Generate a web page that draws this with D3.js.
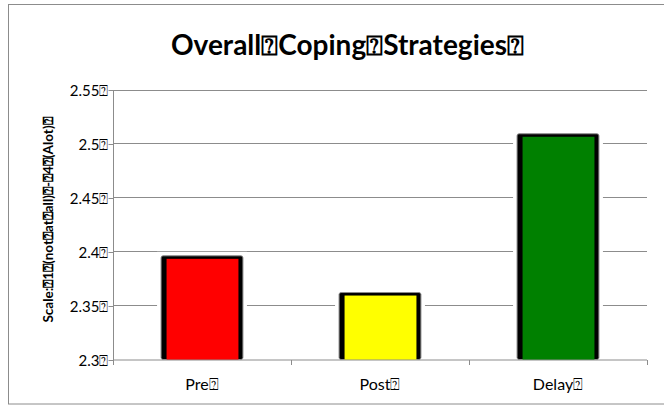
<!DOCTYPE html>
<html><head><meta charset="utf-8">
<script src="https://cdn.jsdelivr.net/npm/d3@7"></script>
<style>body{margin:0;background:#fff}svg{display:block}text{font-family:Lato,"Open Sans",sans-serif}</style>
</head><body><svg id="c" width="664" height="406"></svg>
<script>
const B = "\u2370";
const categories = ["Pre", "Post", "Delay"];
const values = [2.396, 2.362, 2.509];
const colors = ["#FF0000", "#FFFF00", "#008000"];
const yTicks = [2.3, 2.35, 2.4, 2.45, 2.5, 2.55];
const tickLabels = ["2.3", "2.35", "2.4", "2.45", "2.5", "2.55"];
const title = "Overall" + B + "Coping" + B + "Strategies" + B;
const yTitle = "Scale:" + B + "1" + B + "(not" + B + "at" + B + "all)" + B + "-" + B + "4" + B + "(Alot)" + B;

const svg = d3.select("#c");
const L = 113, R = 647, T = 89.5, Bt = 359.5;
svg.append("rect").attr("x", 8.5).attr("y", 4.5).attr("width", 670).attr("height", 399.5)
  .attr("fill", "#fff").attr("stroke", "#8c8c8c").attr("stroke-width", 1);

const x = d3.scaleBand().domain(categories).range([L, R]).paddingInner(0.54).paddingOuter(0.27);
const y = d3.scaleLinear().domain([2.3, 2.55]).range([Bt, T]);

// gridlines
svg.append("g").selectAll("line").data(yTicks.slice(1)).join("line")
  .attr("x1", L).attr("x2", R).attr("y1", d => Math.round(y(d)) + 0.5).attr("y2", d => Math.round(y(d)) + 0.5)
  .attr("stroke", "#8c8c8c");

// y axis
const yAxis = d3.axisLeft(y).tickValues(yTicks).tickSize(5).tickFormat((d, i) => tickLabels[i] + B);
const gy = svg.append("g").attr("transform", `translate(${L + 0.5},0.5)`).call(yAxis);
gy.select(".domain").attr("stroke", "#8c8c8c").attr("d", `M0,${T}V${Bt}`);
gy.selectAll(".tick line").attr("stroke", "#8c8c8c");
gy.selectAll(".tick text").attr("font-size", 15).attr("fill", "#000").attr("x", -5).attr("dy", "0.35em")
  .style("font-family", "Lato, sans-serif");

// x axis
const xAxis = d3.axisBottom(x).tickSize(0).tickFormat(d => d + B);
const gx = svg.append("g").attr("transform", `translate(0,${Bt + 0.5})`).call(xAxis);
gx.select(".domain").attr("stroke", "#8c8c8c").attr("d", `M${L},0H${R}`);
gx.selectAll(".tick text").attr("font-size", 16).attr("fill", "#000").attr("dy", 0).attr("y", 29.5)
  .style("font-family", "Lato, sans-serif");
const bounds = [L, L + (R - L) / 3, L + 2 * (R - L) / 3, R];
gx.append("g").selectAll("line").data(bounds).join("line")
  .attr("x1", d => Math.round(d) + 0.5).attr("x2", d => Math.round(d) + 0.5).attr("y1", 0).attr("y2", 5)
  .attr("stroke", "#8c8c8c");

// bars
const bars = svg.append("g").selectAll("g").data(categories).join("g");
bars.append("rect").attr("x", d => x(d) - 4).attr("width", x.bandwidth() + 8)
  .attr("y", (d, i) => y(values[i]) - 4).attr("height", (d, i) => Bt - y(values[i]) + 3.5).attr("fill", "#fff");
bars.append("rect").attr("x", d => x(d)).attr("width", x.bandwidth())
  .attr("y", (d, i) => y(values[i])).attr("height", (d, i) => Bt - y(values[i]))
  .attr("fill", "#000").attr("stroke", "#8c8c8c").attr("stroke-width", 1).attr("rx", 2);
bars.append("rect").attr("x", d => x(d) + 5.5).attr("width", x.bandwidth() - 10)
  .attr("y", (d, i) => y(values[i]) + 3).attr("height", (d, i) => Bt - y(values[i]) - 3)
  .attr("fill", (d, i) => colors[i]);

// titles
svg.append("text").attr("x", 347.5).attr("y", 55).attr("text-anchor", "middle")
  .attr("font-size", 28).attr("font-weight", "bold").text(title);
svg.append("text").attr("transform", "translate(53,220) rotate(-90)").attr("text-anchor", "middle")
  .attr("font-size", 13.5).attr("font-weight", "bold").text(yTitle);
</script></body></html>
